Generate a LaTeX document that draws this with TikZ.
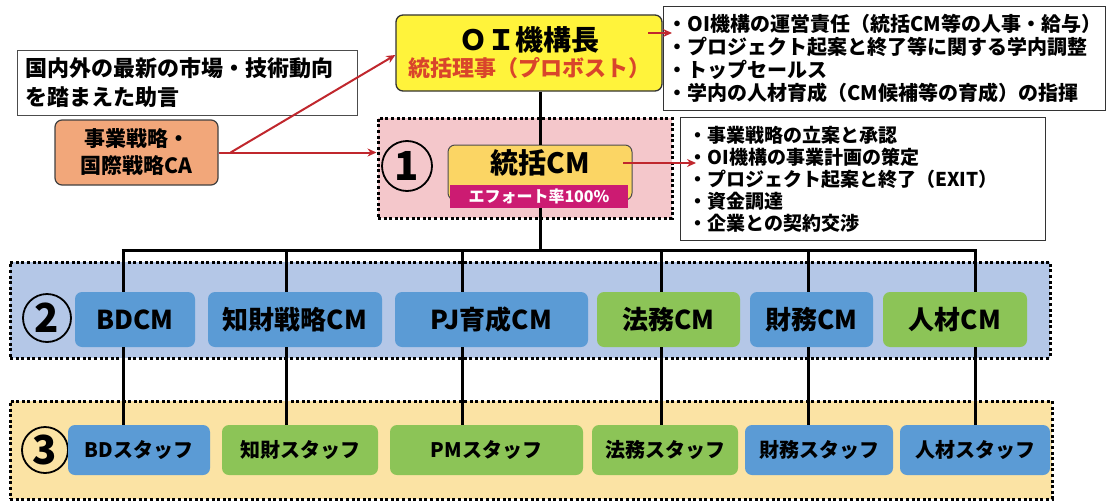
\documentclass[tikz,border=0pt]{standalone}
\usepackage{fontspec}
\setmainfont{Noto Sans CJK JP}
\usetikzlibrary{arrows.meta}
\definecolor{cblue}{HTML}{5B9BD5}
\definecolor{cgreen}{HTML}{8CC457}
\definecolor{cregtwo}{HTML}{B4C7E7}
\definecolor{cregthree}{HTML}{FBE3A4}
\definecolor{cpink}{HTML}{F4C7CB}
\definecolor{cora}{HTML}{F2A77A}
\definecolor{cyel}{HTML}{FFF33B}
\definecolor{ctcm}{HTML}{FBD564}
\definecolor{cmag}{HTML}{CC1B72}
\definecolor{cred}{HTML}{C0272D}
\definecolor{credtext}{HTML}{D9452B}
\begin{document}
\begin{tikzpicture}[x=1pt,y=-1pt,
  region/.style={draw=black, line width=3pt, dash pattern=on 3pt off 2.6pt, inner sep=0pt},
  cbox/.style={rounded corners=7pt, inner sep=0pt, text=black},
  bluebox/.style={cbox, fill=cblue},
  greenbox/.style={cbox, fill=cgreen},
  lvltwo/.style={minimum height=55pt, font=\bfseries\fontsize{26}{28}\selectfont},
  lvlthree/.style={minimum height=50pt, font=\bfseries\fontsize{20}{22}\selectfont},
  numc/.style={circle, draw=black, line width=1.8pt, inner sep=0pt, font=\bfseries\fontsize{40}{40}\selectfont},
  redarrow/.style={draw=cred, line width=2pt, -{Stealth[length=9pt,width=8pt]}},
  conn/.style={draw=black, line width=3pt},
  infobox/.style={draw=black!80, line width=1pt, align=left, inner ysep=0pt, anchor=north west}
]
\useasboundingbox (0,0) rectangle (1107,503);
% regions
\node[region, fill=cpink, minimum width=294pt, minimum height=100pt] (r1) at (525,168) {};
\node[region, fill=cregtwo, minimum width=1040pt, minimum height=96pt] (r2) at (530,310) {};
\node[region, fill=cregthree, minimum width=1042pt, minimum height=98pt] (r3) at (531,450) {};
% circled numbers
\node[numc, minimum size=50pt] (n1) at (407,166) {1};
\node[numc, minimum size=48pt] (n2) at (47,318) {2};
\node[numc, minimum size=46pt] (n3) at (45,450) {3};
% top boxes
\node[draw=black!70, line width=1pt, anchor=north west, minimum width=340pt, minimum height=65pt,
      text width=324pt, inner xsep=8pt, align=left, font=\bfseries\fontsize{22}{29}\selectfont] (adv) at (17,50)
      {国内外の最新の市場・技術動向\\を踏まえた助言};
\node[cbox, draw=black!75, line width=1.2pt, fill=cora, minimum width=163pt, minimum height=65pt,
      align=center, font=\bfseries\fontsize{21}{27}\selectfont] (ca) at (136.5,152.5)
      {事業戦略・\\国際戦略CA};
\node[cbox, draw=black!80, line width=1.3pt, fill=cyel, minimum width=266pt, minimum height=76pt,
      align=center, font=\bfseries\fontsize{28}{30}\selectfont] (oi) at (529,53)
      {ＯＩ機構長\\[-4pt]{\fontsize{22}{24}\selectfont\color{credtext}統括理事（プロボスト）}};
\node[infobox, text width=434pt, minimum height=104pt, inner xsep=4pt,
      font=\bfseries\fontsize{20}{22.7}\selectfont] (info1) at (663,6)
      {・OI機構の運営責任（統括CM等の人事・給与）\\・プロジェクト起案と終了等に関する学内調整\\・トップセールス\\・学内の人材育成（CM候補等の育成）の指揮};
\node[infobox, text width=349pt, minimum height=123pt, inner xsep=8pt,
      font=\bfseries\fontsize{19}{22}\selectfont] (info2) at (680,117)
      {・事業戦略の立案と承認\\・OI機構の事業計画の策定\\・プロジェクト起案と終了（EXIT）\\・資金調達\\・企業との契約交渉};
% tokatsu CM
\node[cbox, draw=black!70, line width=1pt, fill=ctcm, minimum width=184pt, minimum height=55pt] (tcm) at (540,172.5) {};
\node[font=\bfseries\fontsize{28}{30}\selectfont, inner sep=0pt] (tcmtext) at (540,163) {統括CM};
\node[fill=cmag, minimum width=178pt, minimum height=23pt, inner sep=0pt, text=white,
      font=\bfseries\fontsize{16}{18}\selectfont] (eff) at (539,196.5) {エフォート率100\%};
% level 2
\node[bluebox, lvltwo, minimum width=120pt] (bd) at (135,319.5) {BDCM};
\node[bluebox, lvltwo, minimum width=174pt] (ip) at (295,319.5) {知財戦略CM};
\node[bluebox, lvltwo, minimum width=193pt] (pj) at (491.5,319.5) {PJ育成CM};
\node[greenbox, lvltwo, minimum width=143pt] (lg) at (668.5,319.5) {法務CM};
\node[bluebox, lvltwo, minimum width=123pt] (fn) at (811.5,319.5) {財務CM};
\node[greenbox, lvltwo, minimum width=144pt] (hr) at (955,319.5) {人材CM};
% level 3
\node[bluebox, lvlthree, minimum width=142pt] (bds) at (139,450) {BDスタッフ};
\node[greenbox, lvlthree, minimum width=156pt] (ips) at (300,450) {知財スタッフ};
\node[greenbox, lvlthree, minimum width=193pt] (pms) at (486.5,450) {PMスタッフ};
\node[greenbox, lvlthree, minimum width=146pt] (lgs) at (665,450) {法務スタッフ};
\node[bluebox, lvlthree, minimum width=148pt] (fns) at (819,450) {財務スタッフ};
\node[bluebox, lvlthree, minimum width=150pt] (hrs) at (975,450) {人材スタッフ};
% connectors
\draw[conn] (oi.south -| tcm.north) -- (tcm.north);
\coordinate (hub) at (540,250);
\draw[conn] (eff.south -| hub) -- (hub);
\coordinate (x1) at (123,250);
\coordinate (x2) at (286,250);
\coordinate (x3) at (462,250);
\coordinate (x4) at (661,250);
\coordinate (x5) at (808,250);
\coordinate (x6) at (975,250);
\draw[conn] ([xshift=-1.5pt]x1) -- ([xshift=1.5pt]x6);
\foreach \c/\a/\b in {x1/bd/bds, x2/ip/ips, x3/pj/pms, x4/lg/lgs, x5/fn/fns, x6/hr/hrs}{
  \draw[conn] (\c) -- (\c |- \a.north);
  \draw[conn] (\c |- \a.south) -- (\c |- \b.north);
}
% red arrows
\draw[redarrow] ([xshift=12pt]ca.east) -- ([yshift=-2pt]oi.west);
\draw[redarrow] (ca.east) -- (ca.east -| r1.west);
\coordinate (a3) at (648,33);
\draw[redarrow] (a3) -- ([xshift=9pt]a3 -| info1.west);
\coordinate (a4) at (623,163);
\draw[redarrow] (a4) -- ([xshift=16pt]a4 -| info2.west);
\end{tikzpicture}
\end{document}
